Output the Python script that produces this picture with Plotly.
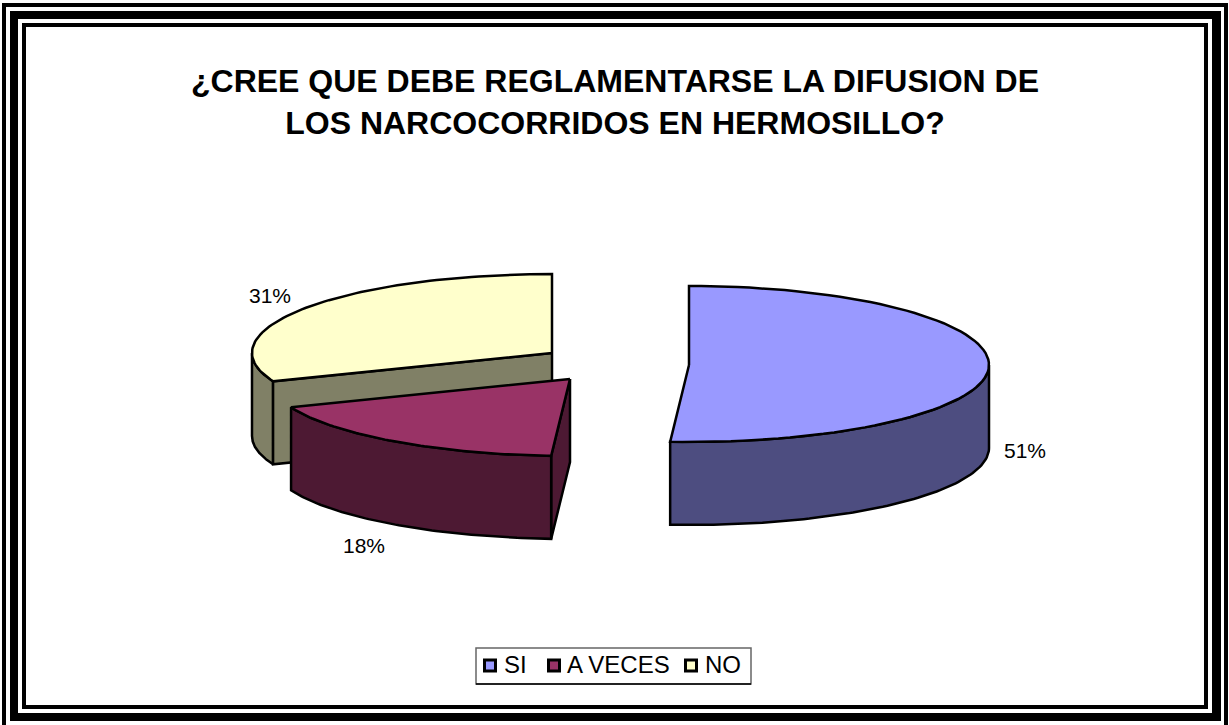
import numpy as np
import plotly.graph_objects as go

W, H = 1229, 725
categories = ["SI", "A VECES", "NO"]
values = [51, 18, 31]
top_colors = ["#9999FF", "#993366", "#FFFFCC"]
side_colors = ["#4D4D80", "#4D1933", "#808066"]
title_lines = ["¿CREE QUE DEBE REGLAMENTARSE LA DIFUSION DE", "LOS NARCOCORRIDOS EN HERMOSILLO?"]

# exploded-pie projection (style, not data)
centres = [(689, 365), (570, 379), (552, 353)]
RX, RY, DEPTH = 300, 79, 83
label_pos = [(1025, 452.5), (364, 547.5), (270, 297.5)]
legend_box = (476, 648, 751, 684)
legend_swatch_x = [490, 554, 691]
legend_text_x = [504, 567, 705]
legend_y = 665.5
FONT = "Liberation Sans, Arial, sans-serif"

turns = np.cumsum([0] + values) / sum(values) * 2 * np.pi


def arc(c, a0, a1, n=80):
    t = np.linspace(a0, a1, n)
    c_ = np.cos(t)
    ry = np.where(c_ < 0, RY * 0.975, RY)
    return c[0] + RX * np.sin(t), c[1] - ry * c_


fig = go.Figure()


def poly(xs, ys, color):
    fig.add_trace(go.Scatter(x=np.r_[xs, xs[0]], y=np.r_[ys, ys[0]], mode="lines", fill="toself",
                             fillcolor=color, line=dict(color="black", width=2.5),
                             showlegend=False, hoverinfo="skip"))


def wall(c, a0, a1, color):
    x, y = arc(c, a0, a1)
    poly(np.r_[x, x[::-1]], np.r_[y, y[::-1] + DEPTH], color)


def cut(c, a, color):
    x, y = arc(c, a, a, 1)
    poly(np.array([c[0], x[0], x[0], c[0]]), np.array([c[1], y[0], y[0] + DEPTH, c[1] + DEPTH]), color)


def top(c, a0, a1, color):
    x, y = arc(c, a0, a1)
    poly(np.r_[c[0], x], np.r_[c[1], y], color)


# painter's order: back slice first
wall(centres[2], turns[2], 1.5 * np.pi, side_colors[2])
cut(centres[2], turns[2], side_colors[2])
top(centres[2], turns[2], turns[3], top_colors[2])

cut(centres[1], turns[1], side_colors[1])
wall(centres[1], turns[1], turns[2], side_colors[1])
top(centres[1], turns[1], turns[2], top_colors[1])

wall(centres[0], 0.5 * np.pi, turns[1], side_colors[0])
top(centres[0], turns[0], turns[1], top_colors[0])

fig.add_trace(go.Scatter(x=[p[0] for p in label_pos], y=[p[1] for p in label_pos],
                         text=[f"{v}%" for v in values], mode="text",
                         textfont=dict(family=FONT, size=21, color="black"),
                         showlegend=False, hoverinfo="skip"))

# legend key, laid out to the reference's tighter spacing
for name, col, sx, tx in zip(categories, top_colors, legend_swatch_x, legend_text_x):
    fig.add_trace(go.Scatter(x=[sx], y=[legend_y], mode="markers", name=name, showlegend=False,
                             hoverinfo="skip",
                             marker=dict(symbol="square", size=11, color=col,
                                         line=dict(color="black", width=3))))
    fig.add_trace(go.Scatter(x=[tx], y=[legend_y + 1.5], mode="text", text=[name], textposition="middle right",
                             textfont=dict(family=FONT, size=24, color="black"),
                             showlegend=False, hoverinfo="skip"))

shapes = []
for x0, y0, x1, y1, color in [
    (2, 3, 1228, 729, "black"), (6, 7, 1224, 725, "white"),
    (10, 11, 1221, 721, "black"), (18, 19, 1212, 713, "white"),
    (22, 23, 1208, 709, "black"), (26, 27, 1204, 705, "white"),
]:
    shapes.append(dict(type="rect", xref="x", yref="y", x0=x0, y0=y0, x1=x1, y1=y1,
                       fillcolor=color, line_width=0, layer="below"))
shapes.append(dict(type="rect", xref="x", yref="y", x0=legend_box[0], y0=legend_box[1],
                   x1=legend_box[2], y1=legend_box[3], fillcolor="white",
                   line=dict(color="#666666", width=1.5), layer="below"))
shapes.append(dict(type="line", xref="x", yref="y", x0=legend_box[0], y0=legend_box[3],
                   x1=legend_box[2], y1=legend_box[3],
                   line=dict(color="black", width=1.5), layer="below"))

fig.update_layout(
    width=W, height=H, autosize=False, margin=dict(l=0, r=0, t=0, b=0),
    paper_bgcolor="white", plot_bgcolor="white", shapes=shapes, showlegend=False,
    xaxis=dict(range=[0, W], visible=False, fixedrange=True),
    yaxis=dict(range=[H, 0], visible=False, fixedrange=True),
    title=dict(text="<br>".join(title_lines), x=615 / W, xanchor="center", y=1 - 92 / H, yanchor="middle",
               font=dict(family=FONT, size=32, color="black", weight="bold")),
)
fig.write_html("out.html", config={"displayModeBar": False},
               post_script="document.body.style.margin='0';document.body.style.overflow='hidden';")
